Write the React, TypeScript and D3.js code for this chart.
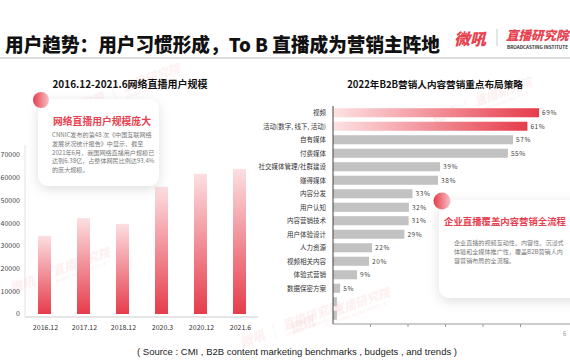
import * as d3 from 'd3';

const userMonths = ['2016.12', '2017.12', '2018.12', '2020.3', '2020.12', '2021.6'];
const userCounts = [34400, 42200, 39700, 56000, 61700, 63800];
const userTicks = [0, 10000, 20000, 30000, 40000, 50000, 60000, 70000];

const strategyNames = [
  '视频', '活动(数字, 线下, 活动)', '自有媒体', '付费媒体', '社交媒体管理/社群建设', '赚得媒体',
  '内容分发', '用户认知', '内容营销技术', '用户体验设计', '人力资源', '视频相关内容',
  '体验式营销', '数据保密方案', '', '',
];
const strategyLabels = ['69%', '61%', '57%', '55%', '39%', '38%', '33%', '32%', '31%', '29%', '22%', '20%', '9%', '5%', '', ''];
// bar lengths as drawn in the source image (they don't track the printed labels exactly)
const strategyBars = [68.7, 64.8, 60, 58.3, 35.7, 35, 26.5, 25.3, 25.2, 23.8, 13, 12, 8, 2.4, 1.3, 1.3];
const strategyTicks = [12.5, 25, 37.5, 50, 62.5];

const cardLeftText = [
  'CNNIC发布的第48 次《中国互联网络',
  '发展状况统计报告》中显示，截至',
  '2021年6月，我国网络直播用户规模已',
  '达到6.38亿，占整体网民比例达93.4%',
  '的庞大规模。',
];
const cardRightText = [
  '企业直播的视频互动性、内容性、沉浸式',
  '体验和全媒体推广性，覆盖B2B营销人内',
  '容营销布局的全流程。',
];

const RED = '#e8414f';
const FONT = "'Noto Sans CJK SC', 'Noto Sans', sans-serif";

const Watermark = ({ x, y }: { x: number; y: number }) => (
  <g transform={`translate(${x},${y}) rotate(-20)`} opacity={0.07} fill={RED}>
    <text x={-46} y={0} fontSize={13} fontWeight={900} fontStyle="italic">微吼</text>
    <line x1={-10} x2={-10} y1={-12} y2={4} stroke="#888" />
    <text x={0} y={-2} fontSize={12} fontWeight={900} fontStyle="italic">直播研究院</text>
    <text x={0} y={5} fontSize={4} fontWeight={700}>BROADCASTING INSTITUTE</text>
  </g>
);

export default function App() {
  const ux = d3.scaleBand().domain(userMonths).range([25, 259]).paddingInner(2 / 3).paddingOuter(1 / 3);
  const uy = d3.scaleLinear().domain([0, 70000]).range([314, 155]);

  const sy = d3.scaleBand<number>()
    .domain(d3.range(strategyBars.length))
    .range([106, 322])
    .paddingInner(0.33)
    .paddingOuter(0.165);
  const sx = d3.scaleLinear().domain([0, 80]).range([333, 573]);

  return (
    <svg width={570} height={360} style={{ position: 'fixed', left: 0, top: 0, background: '#fff' }} fontFamily={FONT}>
      <defs>
        <linearGradient id="userBar" x1="0" y1="0" x2="0" y2="1">
          <stop offset="0%" stopColor="#fcdfe1" />
          <stop offset="100%" stopColor="#e63c4b" />
        </linearGradient>
        <linearGradient id="topBar" x1="0" y1="0" x2="1" y2="0">
          <stop offset="0%" stopColor="#fde2e4" />
          <stop offset="100%" stopColor="#e63c4b" />
        </linearGradient>
        <linearGradient id="dot" x1="0" y1="0" x2="1" y2="0">
          <stop offset="0%" stopColor="#e63c4b" />
          <stop offset="100%" stopColor="#f8c2c6" />
        </linearGradient>
        <filter id="shadow" x="-30%" y="-30%" width="160%" height="170%">
          <feDropShadow dx={0} dy={3} stdDeviation={6} floodColor="#000" floodOpacity={0.13} />
        </filter>
      </defs>

      {/* header */}
      <text x={5} y={52} fontSize={19} fontWeight={900} fill="#111" textLength={435} lengthAdjust="spacingAndGlyphs">
        用户趋势：用户习惯形成，To B 直播成为营销主阵地
      </text>
      <text x={454} y={45} fontSize={16} fontWeight={900} fontStyle="italic" fill={RED}>微吼</text>
      <line x1={497} x2={497} y1={29} y2={46} stroke="#ccc" />
      <text x={506} y={40} fontSize={12.5} fontWeight={900} fontStyle="italic" fill={RED}>直播研究院</text>
      <text x={507} y={48.5} fontSize={4.6} fontWeight={700} fill="#333">BROADCASTING INSTITUTE</text>
      <line x1={0} x2={570} y1={58} y2={58} stroke="#ddd" strokeWidth={2} />

      <Watermark x={125} y={94} />
      <Watermark x={477} y={108} />
      <Watermark x={55} y={278} />
      <Watermark x={335} y={318} />
      <Watermark x={285} y={332} />

      {/* left chart: live streaming users */}
      <text x={130} y={88} fontSize={10} fontWeight={700} fill="#111" textAnchor="middle">
        2016.12-2021.6网络直播用户规模
      </text>
      <line x1={25} x2={25} y1={145} y2={317} stroke="#e2e2e2" />
      <line x1={25} x2={258} y1={317} y2={317} stroke="#dcdcdc" strokeWidth={1.5} />
      {userTicks.map(t => (
        <text key={t} x={20} y={uy(t)} dy="0.35em" fontSize={7} fill="#444" textAnchor="end">{t}</text>
      ))}
      {userMonths.map((m, i) => (
        <g key={m}>
          <rect
            x={ux(m)}
            y={uy(userCounts[i])}
            width={ux.bandwidth()}
            height={uy(0) - uy(userCounts[i])}
            fill="url(#userBar)"
          />
          <text x={(ux(m) as number) + ux.bandwidth() / 2 + 1} y={330} fontSize={7} fill="#333" textAnchor="middle">{m}</text>
        </g>
      ))}

      {/* left card */}
      <rect x={38} y={99} width={121} height={87} rx={11} fill="#fff" filter="url(#shadow)" />
      <circle cx={41} cy={100} r={8} fill="url(#dot)" />
      <text x={53} y={125} fontSize={9.8} fontWeight={700} fill={RED}>网络直播用户规模庞大</text>
      {cardLeftText.map((line, i) => (
        <text key={i} x={52} y={137 + i * 8.8} fontSize={6.1} fill="#7a7a7a">{line}</text>
      ))}

      {/* right chart: B2B marketing strategies */}
      <text x={435} y={88} fontSize={9.6} fontWeight={700} fill="#111" textAnchor="middle">
        2022年B2B营销人内容营销重点布局策略
      </text>
      {strategyBars.map((v, i) => {
        const y0 = sy(i) as number;
        const cy = y0 + sy.bandwidth() / 2;
        return (
          <g key={i}>
            <rect x={sx(0)} y={y0} width={sx(v) - sx(0)} height={sy.bandwidth()} fill={i < 2 ? 'url(#topBar)' : '#c2c2c2'} />
            <text x={326} y={cy} dy="0.35em" fontSize={6.5} fill="#333" textAnchor="end">{strategyNames[i]}</text>
            <text x={sx(v) + 3} y={cy} dy="0.35em" fontSize={6.5} fill="#444" letterSpacing={0.6}>{strategyLabels[i]}</text>
          </g>
        );
      })}
      <line x1={333} x2={333} y1={106} y2={324} stroke="#444" />
      <line x1={333} x2={570} y1={324} y2={324} stroke="#999" />
      {strategyTicks.map(t => (
        <line key={t} x1={sx(t)} x2={sx(t)} y1={324} y2={327} stroke="#999" />
      ))}

      {/* right card */}
      <rect x={439} y={200} width={145} height={98} rx={11} fill="#fff" filter="url(#shadow)" />
      <circle cx={442} cy={201} r={8.5} fill="url(#dot)" />
      <text x={444} y={225} fontSize={9.4} fontWeight={700} fill={RED}>企业直播覆盖内容营销全流程</text>
      {cardRightText.map((line, i) => (
        <text key={i} x={454} y={245 + i * 8.8} fontSize={6.1} fill="#7a7a7a">{line}</text>
      ))}

      <text x={563} y={336} fontSize={6} fill="#999">6</text>
      <text x={297} y={355} fontSize={9.5} fill="#222" textAnchor="middle" fontFamily="'Liberation Sans', sans-serif">
        ( Source : CMI , B2B content marketing benchmarks , budgets , and trends )
      </text>
    </svg>
  );
}
